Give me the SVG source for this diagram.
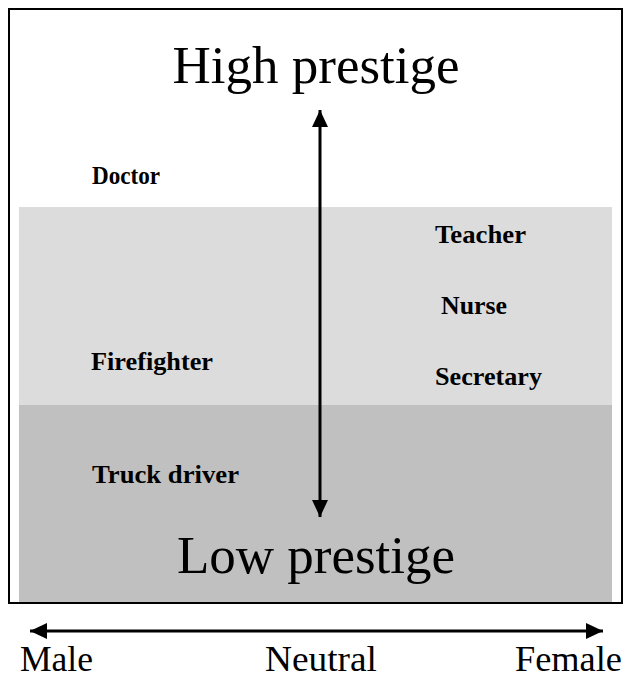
<svg xmlns="http://www.w3.org/2000/svg" width="626" height="678" viewBox="0 0 626 678">
<defs>
<style>
.big{font-family:"Liberation Serif","Times New Roman",serif;font-size:53px;fill:#000;text-anchor:middle}
.axis{font-family:"Liberation Serif","Times New Roman",serif;font-size:35px;fill:#000}
.lbl{font-family:"Liberation Serif","Times New Roman",serif;font-size:25px;font-weight:bold;fill:#000}
.conn{stroke:#000;stroke-width:3;fill:none}
</style>
<marker id="ah" markerUnits="userSpaceOnUse" markerWidth="18" markerHeight="18" viewBox="0 0 18 18" refX="17" refY="9" orient="auto-start-reverse">
<path d="M0,1 L17,9 L0,17 Z" fill="#000"/>
</marker>
</defs>
<rect x="0" y="0" width="626" height="678" fill="#fff"/>
<g id="frame">
<rect x="9" y="9" width="613" height="594" fill="#fff" stroke="#000" stroke-width="2"/>
<rect x="19" y="207" width="593" height="198" fill="#dcdcdc"/>
<rect x="19" y="405" width="593" height="197" fill="#c0c0c0"/>
</g>
<g id="connectors">
<line class="conn" x1="320" y1="517" x2="320" y2="110" marker-start="url(#ah)" marker-end="url(#ah)"/>
<line class="conn" x1="30" y1="631" x2="603" y2="631" marker-start="url(#ah)" marker-end="url(#ah)"/>
</g>
<g id="high"><text class="big" x="316" y="83">High prestige</text></g>
<g id="low"><text class="big" x="316" y="573">Low prestige</text></g>
<g id="doctor"><text class="lbl" x="92" y="184" textLength="68" lengthAdjust="spacingAndGlyphs">Doctor</text></g>
<g id="teacher"><text class="lbl" x="435" y="243" textLength="91" lengthAdjust="spacingAndGlyphs">Teacher</text></g>
<g id="nurse"><text class="lbl" x="441" y="314" textLength="66" lengthAdjust="spacingAndGlyphs">Nurse</text></g>
<g id="firefighter"><text class="lbl" x="91" y="370" textLength="122" lengthAdjust="spacingAndGlyphs">Firefighter</text></g>
<g id="secretary"><text class="lbl" x="435" y="385" textLength="107" lengthAdjust="spacingAndGlyphs">Secretary</text></g>
<g id="truck"><text class="lbl" x="92" y="483" textLength="147" lengthAdjust="spacingAndGlyphs">Truck driver</text></g>
<g id="male"><text class="axis" x="20" y="671" textLength="73" lengthAdjust="spacingAndGlyphs">Male</text></g>
<g id="neutral"><text class="axis" x="265" y="671" textLength="112" lengthAdjust="spacingAndGlyphs">Neutral</text></g>
<g id="female"><text class="axis" x="515" y="671" textLength="107" lengthAdjust="spacingAndGlyphs">Female</text></g>
</svg>
